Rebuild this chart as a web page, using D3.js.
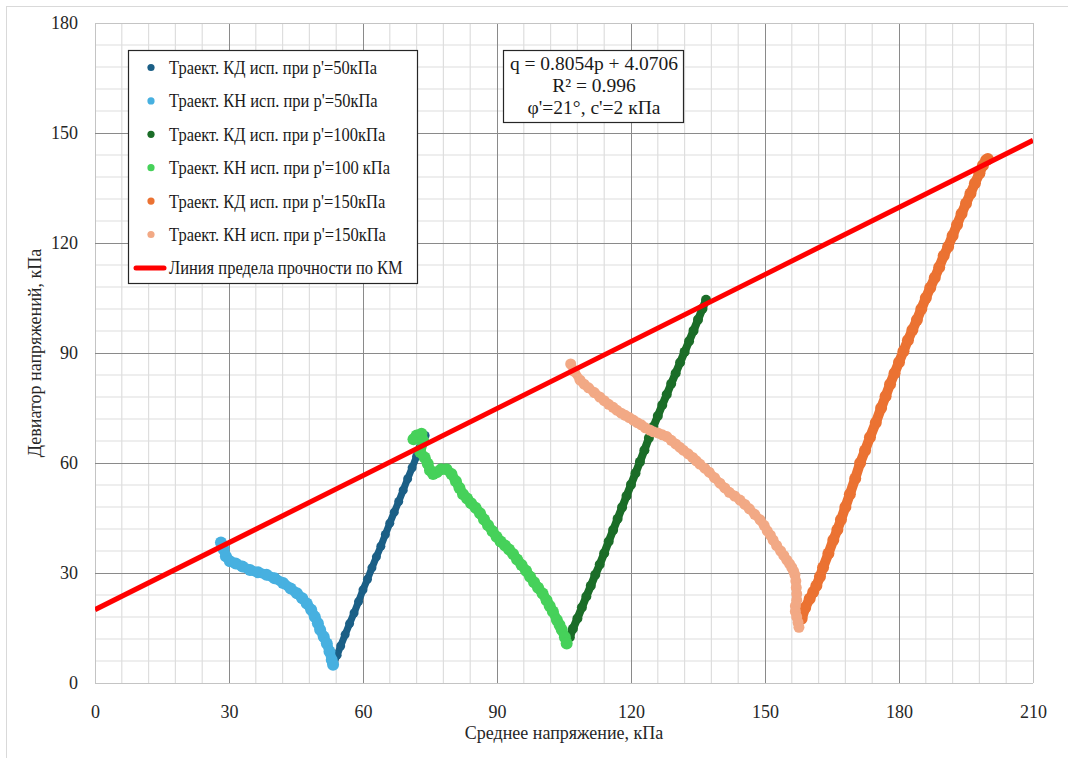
<!DOCTYPE html>
<html>
<head>
<meta charset="utf-8">
<script src="https://cdn.jsdelivr.net/npm/d3@7"></script>
<style>
  html, body { margin: 0; padding: 0; background: #fff; }
  svg { display: block; }
  svg text { font-family: "Liberation Serif", "DejaVu Serif", "Times New Roman", serif; }
</style>
</head>
<body>
<svg id="chart" width="1068" height="758"></svg>
<script>
// Stress paths, [p, q] in kPa
const kd50 = [[53.5,5.5],[54.2,7.6],[55,10.1],[56,13.2],[57,16.2],[58,19.1],[59,22.2],[60,25.4],[61,28.3],[62,31.4],[63,34.4],[64,37.3],[65,40.5],[66,43.6],[67,46.6],[68,49.5],[69,52.6],[70,55.7],[71,58.7],[72,61.8],[72.8,64.3],[73.5,66.3],[73.9,67.5]];
const kh50 = [[28.2,38.3],[28.8,36.5],[29.3,34.6],[30.2,33.2],[31.5,32.6],[33,31.8],[34.7,30.8],[36.5,30.2],[38.4,29.5],[40.2,28.6],[42.1,27.3],[43.8,25.8],[45.2,24.5],[46.4,23.1],[47.4,21.7],[48.4,20],[49.2,18.1],[49.9,16.3],[50.4,14.5],[51.2,12.6],[51.9,10.8],[52.5,8.6],[53,6.3],[53.3,5]];
const kd100 = [[106.3,12.5],[107,14.8],[108,17.6],[109,20.6],[110,23.6],[111,26.5],[112,29.5],[113,32.3],[114,35.4],[115,38.6],[116,41.7],[117,44.8],[118,47.9],[119,51],[120,54.1],[121,57.2],[122,60.3],[123,63.5],[124,66.8],[125,69.9],[126,72.8],[127,75.8],[128,78.7],[129,81.6],[130,84.5],[131,87.4],[132,90.3],[133,93.2],[134,96.1],[135,99.1],[136,102.1],[136.8,104.5]];
const kh100 = [[71.3,66.5],[72,67.5],[73.1,68],[73.5,66],[72.8,63],[73.8,61.5],[74.5,59.8],[75,58],[75.7,57],[76.5,57.5],[77.5,58.3],[78.7,58.3],[79.8,57],[80.8,55],[81.6,53.2],[82.4,51.5],[83.3,50.3],[84.2,49],[85.2,47.8],[86.2,46.3],[87.1,44.6],[88,43],[89,41.4],[89.9,39.9],[90.8,38.6],[91.8,37.5],[92.7,36.4],[93.6,35.2],[94.5,33.7],[95.5,32.2],[96.5,30.6],[97.4,29],[98.3,27.5],[99.2,26],[100.2,24.4],[101.1,22.6],[101.8,21],[102.5,19.5],[103.4,17.2],[104,15.8],[104.5,14.5],[105.2,12.5],[105.6,10.8]];
const kd150 = [[158.2,17.5],[159,20.5],[160,23],[160.8,24.8],[161.5,26.5],[162.3,29],[163,31.5],[164.2,35.3],[165.3,39],[166.2,41.8],[167,44.5],[168,48],[169,51.5],[170.2,55.8],[171.3,60],[172.4,63.4],[173.5,67],[174.8,71],[176,75],[177,78.2],[178,81.5],[179,84.5],[180,87.5],[181,90.5],[182,93.5],[183,96.3],[184,99],[185,102],[186,105],[187,107.8],[188,110.5],[189,113.4],[190,116.5],[191,119],[192,122],[193,125],[194,128],[195,130.8],[196,133.5],[197,136.3],[198,139],[198.8,141.2],[199.5,142.6],[199.9,142.9]];
const kh150 = [[106.5,87],[107.3,85],[108.6,82.6],[109.5,81.5],[110.5,80.5],[111.8,79.2],[113,78],[114,77],[115,76],[116,75.2],[116.8,74.4],[117.8,73.6],[118.7,73],[119.6,72.4],[120.5,71.7],[121.4,71],[122.3,70.4],[123.2,69.6],[124.2,69],[125,68.5],[126,68.2],[127,67.7],[128,67.2],[129,66.2],[130,65.2],[130.9,64.3],[131.7,63.5],[132.8,62.5],[133.8,61.5],[134.6,60.6],[135.4,59.7],[136.5,58.6],[137.5,57.5],[138.7,56],[139.9,54.5],[141,53.2],[142,52],[143.2,51],[144.4,49.9],[145.5,48.7],[146.5,47.5],[147.7,46],[148.9,44.5],[149.8,43],[150.5,41.5],[151.2,40.3],[151.8,39],[152.6,37.5],[153.5,36],[154.2,34.8],[154.9,33.5],[155.5,32.5],[156,31.5],[156.4,30.5],[156.7,29.5],[156.9,27.8],[157,26],[157.1,24.3],[157.1,22.6],[156.8,21],[156.8,19.5],[157.1,18],[157.4,16.5],[157.6,15.2]];

// Strength line (MC)
const strengthLine = [[0, 20], [210, 148]];

const xTicks = [0, 30, 60, 90, 120, 150, 180, 210];
const yTicks = [0, 30, 60, 90, 120, 150, 180];

const seriesNames = [
  "Траект. КД исп. при p'=50кПа",
  "Траект. КН исп. при p'=50кПа",
  "Траект. КД исп. при p'=100кПа",
  "Траект. КН исп. при p'=100  кПа",
  "Траект. КД исп. при p'=150кПа",
  "Траект. КН исп. при p'=150кПа"
];
const lineName = "Линия предела прочности по КМ";
const fitText = ["q = 0.8054p  + 4.0706", "R² = 0.996", "φ'=21°,  c'=2  кПа"];
const xTitle = "Среднее напряжение, кПа";
const yTitle = "Девиатор напряжений, кПа";

const colors = ["#1b5f86", "#47b0e0", "#1b6d28", "#46d15a", "#eb7232", "#f2a985"];
const SERIF = "Liberation Serif, DejaVu Serif, Times New Roman, serif";

const svg = d3.select("#chart");
const W = 1068, H = 758;
const m = { left: 95, right: 1033, top: 23, bottom: 683 };

const x = d3.scaleLinear().domain([0, 210]).range([m.left, m.right]);
const y = d3.scaleLinear().domain([0, 180]).range([m.bottom, m.top]);

// outer frame
svg.append("rect").attr("x", 6.5).attr("y", 6.5).attr("width", W - 6).attr("height", H - 6)
  .attr("fill", "#fff").attr("stroke", "#d9d9d9");

// minor grid (every 6 kPa)
const g = svg.append("g");
const minorX = d3.range(0, 211, 6).filter(v => v % 30 !== 0);
const minorY = d3.range(0, 181, 6).filter(v => v % 30 !== 0);
g.selectAll(".mx").data(minorX).join("line")
  .attr("x1", d => x(d)).attr("x2", d => x(d)).attr("y1", m.top).attr("y2", m.bottom)
  .attr("stroke", "#dedede").attr("stroke-width", 1.2);
g.selectAll(".my").data(minorY).join("line")
  .attr("y1", d => y(d)).attr("y2", d => y(d)).attr("x1", m.left).attr("x2", m.right)
  .attr("stroke", "#dedede").attr("stroke-width", 1.2);

// major grid
g.selectAll(".MX").data(xTicks).join("line")
  .attr("x1", d => Math.round(x(d)) + 0.5).attr("x2", d => Math.round(x(d)) + 0.5)
  .attr("y1", m.top).attr("y2", m.bottom)
  .attr("stroke", d => (d === 0 || d === 210) ? "#c4c4c4" : "#8a8a8a").attr("stroke-width", 1);
g.selectAll(".MY").data(yTicks).join("line")
  .attr("y1", d => Math.round(y(d)) + 0.5).attr("y2", d => Math.round(y(d)) + 0.5)
  .attr("x1", m.left).attr("x2", m.right)
  .attr("stroke", d => (d === 0 || d === 180) ? "#c4c4c4" : "#8a8a8a").attr("stroke-width", 1);

// tick labels via d3 axes
const xAxis = svg.append("g").attr("transform", `translate(0,${m.bottom})`)
  .call(d3.axisBottom(x).tickValues(xTicks).tickSize(0).tickPadding(22).tickFormat(d3.format("d")));
const yAxis = svg.append("g").attr("transform", `translate(${m.left},0)`)
  .call(d3.axisLeft(y).tickValues(yTicks).tickSize(0).tickPadding(17).tickFormat(d3.format("d")));
[xAxis, yAxis].forEach(a => {
  a.attr("font-family", SERIF);
  a.select(".domain").remove();
  a.selectAll("text").attr("font-family", SERIF).attr("font-size", 18).attr("fill", "#262626");
});

svg.append("text").attr("x", 564).attr("y", 739).attr("text-anchor", "middle")
  .attr("font-family", SERIF).attr("font-size", 18).attr("fill", "#262626").text(xTitle);
svg.append("text").attr("transform", `translate(41,${(m.top + m.bottom) / 2}) rotate(-90)`)
  .attr("text-anchor", "middle").attr("font-family", SERIF).attr("font-size", 18)
  .attr("fill", "#262626").text(yTitle);

// plot marks
svg.append("clipPath").attr("id", "plotclip").append("rect")
  .attr("x", m.left).attr("y", m.top).attr("width", m.right - m.left).attr("height", m.bottom - m.top);
const plot = svg.append("g").attr("clip-path", "url(#plotclip)");

const line = d3.line().x(d => x(d[0])).y(d => y(d[1]));
const series = [kd50, kh50, kd100, kh100, kd150, kh150];
const widths = [8, 11, 9, 11, 11, 10];
series.forEach((data, i) => {
  const sg = plot.append("g");
  sg.append("path").datum(data).attr("d", line).attr("fill", "none")
    .attr("stroke", colors[i]).attr("stroke-width", widths[i] - 1)
    .attr("stroke-linecap", "round").attr("stroke-linejoin", "round");
  sg.selectAll("circle").data(data).join("circle")
    .attr("cx", d => x(d[0])).attr("cy", d => y(d[1])).attr("r", widths[i] / 2 + 0.5)
    .attr("fill", colors[i]);
});

plot.append("path").datum(strengthLine).attr("d", line)
  .attr("stroke", "#ff0000").attr("stroke-width", 5).attr("fill", "none");

// legend
const lg = svg.append("g");
lg.append("rect").attr("x", 128.5).attr("y", 50.5).attr("width", 289).attr("height", 233)
  .attr("fill", "#fff").attr("stroke", "#262626").attr("stroke-width", 1.2);
const rowY = i => 74 + i * 33.4;
seriesNames.forEach((name, i) => {
  lg.append("circle").attr("cx", 151).attr("cy", rowY(i) - 6.5).attr("r", 3.6).attr("fill", colors[i]);
});
const labels = seriesNames.concat([lineName]);
const texts = labels.map((name, i) => lg.append("text").attr("x", 169).attr("y", rowY(i))
  .attr("font-family", SERIF).attr("font-size", 19).attr("fill", "#1a1a1a").text(name));
// condensed face: fit the first label to its column width
const base = texts[0].node().getComputedTextLength();
const squeeze = 208 / base;
texts.forEach(t => {
  const len = t.node().getComputedTextLength();
  t.attr("textLength", len * squeeze).attr("lengthAdjust", "spacingAndGlyphs");
});
lg.append("line").attr("x1", 136).attr("x2", 164).attr("y1", rowY(6) - 6.5).attr("y2", rowY(6) - 6.5)
  .attr("stroke", "#ff0000").attr("stroke-width", 5).attr("stroke-linecap", "round");

// regression text box
const tb = svg.append("g");
tb.append("rect").attr("x", 503.5).attr("y", 50.5).attr("width", 180).attr("height", 72)
  .attr("fill", "#fff").attr("stroke", "#262626").attr("stroke-width", 1.2);
fitText.forEach((t, i) => {
  tb.append("text").attr("x", 594).attr("y", 70 + i * 22).attr("text-anchor", "middle")
    .attr("font-family", SERIF).attr("font-size", 19.5).attr("fill", "#1a1a1a").text(t);
});
</script>
</body>
</html>
